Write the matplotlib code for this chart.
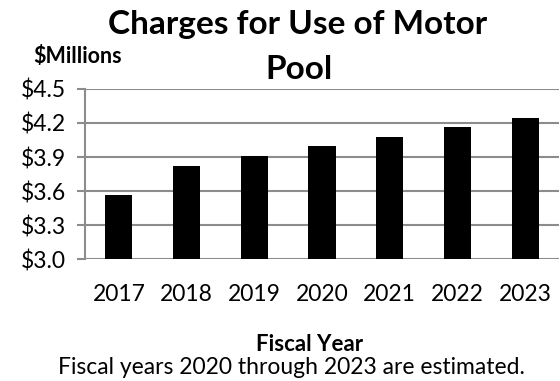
import matplotlib.pyplot as plt

# Motor pool charges by fiscal year ($ millions)
years = ['2017', '2018', '2019', '2020', '2021', '2022', '2023']
charges = [3.57, 3.82, 3.91, 4.00, 4.08, 4.16, 4.24]
y_ticks = [3.0, 3.3, 3.6, 3.9, 4.2, 4.5]

plt.rcParams['font.family'] = ['Lato', 'DejaVu Sans']

fig = plt.figure(figsize=(5.6, 3.81), dpi=100)
ax = fig.add_axes([0.152, 0.319, 0.846, 0.448])

x = range(len(years))
ax.bar(x, charges, width=0.4, color='black', zorder=3)

ax.set_xlim(-0.5, len(years) - 0.5)
ax.set_ylim(3.0, 4.5)
ax.set_yticks(y_ticks)
ax.set_yticklabels([f'${v:.1f}' for v in y_ticks], fontsize=16.5)
ax.set_xticks(list(x))
ax.set_xticklabels(years, fontsize=16.5)

# gray horizontal gridlines, gray left axis with outward ticks
ax.grid(axis='y', color='#8c8c8c', linewidth=1.5, zorder=0)
for side in ['top', 'right', 'bottom']:
    ax.spines[side].set_visible(False)
ax.spines['left'].set_color('#8c8c8c')
ax.spines['left'].set_linewidth(1.5)
ax.tick_params(axis='y', direction='out', length=6, width=1.5, color='#8c8c8c', pad=8)
ax.tick_params(axis='x', length=0, pad=17.5)

fig.text(0.532, 0.910, 'Charges for Use of Motor', ha='center', va='baseline',
         fontsize=24, fontweight='bold')
fig.text(0.534, 0.792, 'Pool', ha='center', va='baseline', fontsize=24, fontweight='bold')
fig.text(0.138, 0.835, '$Millions', ha='center', va='baseline', fontsize=15.5, fontweight='bold')
fig.text(0.553, 0.079, 'Fiscal Year', ha='center', va='baseline', fontsize=16, fontweight='bold')
fig.text(0.52, 0.018, 'Fiscal years 2020 through 2023 are estimated.', ha='center',
         va='baseline', fontsize=16.5)

fig.savefig('out.png', dpi=100)
